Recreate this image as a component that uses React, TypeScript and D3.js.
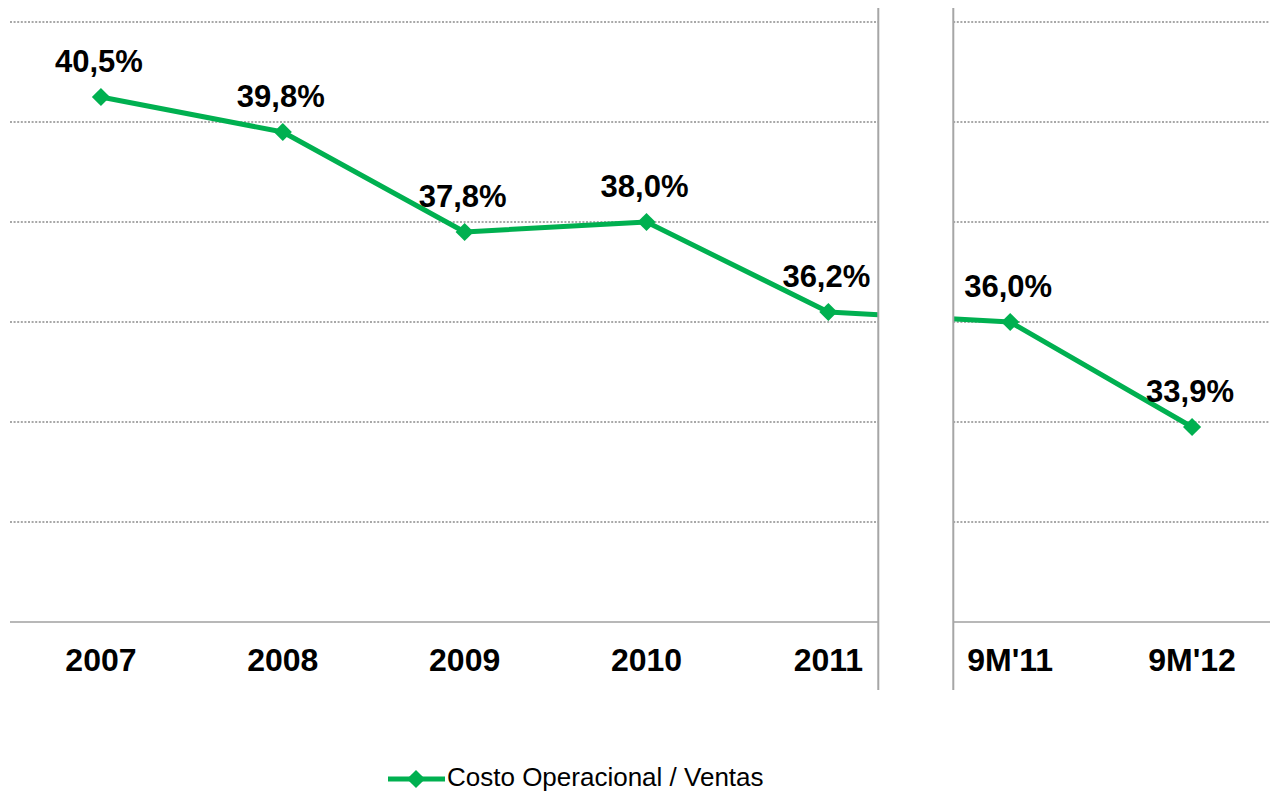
import React from "react";
import * as d3 from "d3";

const categories = ["2007", "2008", "2009", "2010", "2011", "9M'11", "9M'12"];
const costRatio = [40.5, 39.8, 37.8, 38.0, 36.2, 36.0, 33.9];
const valueLabels = ["40,5%", "39,8%", "37,8%", "38,0%", "36,2%", "36,0%", "33,9%"];
const yTicks = [30, 32, 34, 36, 38, 40, 42];
const seriesName = "Costo Operacional / Ventas";

const GREEN = "#00B050";
const FONT = "'Liberation Sans', Arial, sans-serif";

const App = () => {
  const width = 1270;
  const height = 792;

  const x = d3.scaleBand<string>().domain(categories).range([10, 1283]).padding(0);
  const y = d3.scaleLinear().domain([30, 42]).range([622, 22]);
  const cx = (c: string) => (x(c) ?? 0) + x.bandwidth() / 2;

  const points = categories.map((c, i) => ({ c, v: costRatio[i], label: valueLabels[i] }));
  const line = d3
    .line<{ c: string; v: number }>()
    .x((d) => cx(d.c))
    .y((d) => y(d.v));

  // break between full years and 9M periods
  const splitX = x("9M'11") ?? 0;
  const gapL = splitX - 41;
  const gapR = splitX + 34;

  const diamond = d3.symbol().type(d3.symbolDiamond2).size(210)();

  return (
    <svg
      width={width}
      height={height}
      style={{ position: "absolute", left: 0, top: 0, background: "#fff" }}
    >
      {yTicks
        .filter((t) => t !== 30)
        .map((t) => (
          <line
            key={t}
            x1={10}
            x2={1270}
            y1={y(t)}
            y2={y(t)}
            stroke="#8c8c8c"
            strokeWidth={1.3}
            strokeDasharray="2,1.6"
          />
        ))}
      <line x1={10} x2={1270} y1={y(30)} y2={y(30)} stroke="#a0a0a0" strokeWidth={1.6} />

      <path d={line(points) ?? ""} fill="none" stroke={GREEN} strokeWidth={5} strokeLinejoin="round" />

      <rect x={gapL} y={0} width={gapR - gapL} height={700} fill="#fff" />
      <line x1={gapL} x2={gapL} y1={8} y2={690} stroke="#a6a6a6" strokeWidth={2} />
      <line x1={gapR} x2={gapR} y1={8} y2={690} stroke="#a6a6a6" strokeWidth={2} />

      {points.map((p) => (
        <path
          key={p.c}
          d={diamond ?? ""}
          transform={`translate(${cx(p.c)},${y(p.v)})`}
          fill={GREEN}
        />
      ))}

      {points.map((p) => (
        <text
          key={"l" + p.c}
          x={cx(p.c) - 2}
          y={y(p.v) - 25}
          textAnchor="middle"
          fontFamily={FONT}
          fontWeight="bold"
          fontSize={31}
          fill="#000"
        >
          {p.label}
        </text>
      ))}

      {categories.map((c) => (
        <text
          key={"t" + c}
          x={cx(c)}
          y={671}
          textAnchor="middle"
          fontFamily={FONT}
          fontWeight="bold"
          fontSize={32}
          fill="#000"
        >
          {c}
        </text>
      ))}

      <g transform="translate(388,779)">
        <line x1={0} x2={57} y1={0} y2={0} stroke={GREEN} strokeWidth={5} />
        <path d={diamond ?? ""} transform="translate(28,0)" fill={GREEN} />
        <text x={59} y={7} fontFamily={FONT} fontSize={26} fill="#000">
          {seriesName}
        </text>
      </g>
    </svg>
  );
};

export default App;
